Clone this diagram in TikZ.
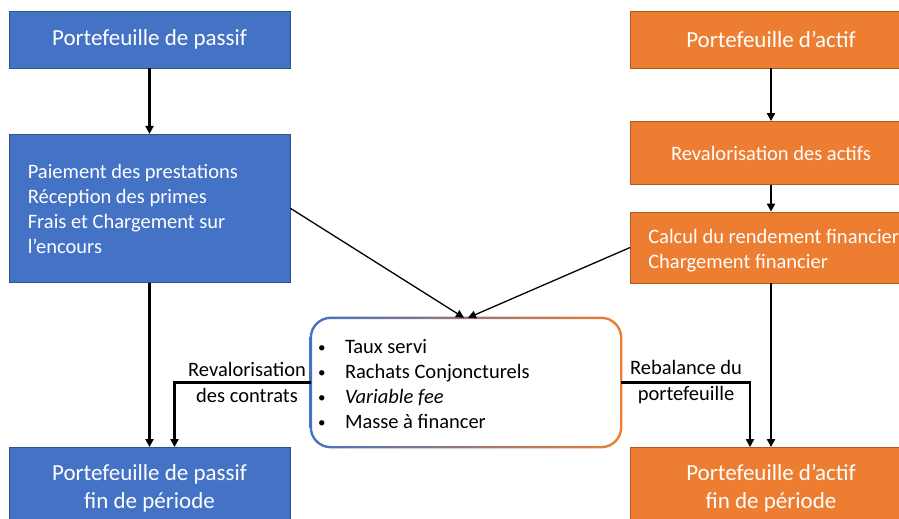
\documentclass[tikz,border=0pt]{standalone}
\usepackage{fontspec}
\setmainfont{Carlito}
\usetikzlibrary{arrows.meta,positioning}

\definecolor{passifblue}{HTML}{4472C4}
\definecolor{passifedge}{HTML}{2F528F}
\definecolor{actiforange}{HTML}{ED7D31}
\definecolor{actifedge}{HTML}{AE5A21}
\newcommand{\puce}{\makebox[27pt][l]{\raisebox{1pt}{\fontsize{15}{15}\selectfont\textbullet}}}

\begin{document}
\begin{tikzpicture}[
    x=1pt, y=-1pt,
    flow/.style={-{Triangle[length=8pt,width=8pt]}, line width=2.5pt},
    thinflow/.style={-{Triangle[length=8pt,width=8pt]}, line width=1.3pt},
    box/.style={draw, line width=0.8pt, text=white, align=center,
                inner sep=0pt, minimum width=281pt},
    passif/.style={box, fill=passifblue, draw=passifedge},
    actif/.style={box, fill=actiforange, draw=actifedge},
    head/.style={font=\fontsize{23}{28}\selectfont},
    body/.style={font=\fontsize{20.5}{25}\selectfont},
    inbox/.style={body, text=white, align=left, anchor=west, inner sep=0pt},
    sidelabel/.style={font=\fontsize{20.5}{26}\selectfont, align=center, inner sep=0pt}
  ]
  \useasboundingbox (0,0) rectangle (899,519);

  % passif side
  \node[passif, head, minimum height=57pt] (passif) at (149.5,39.5)
    {Portefeuille de passif};
  \node[passif, minimum height=148pt] (flux) at (149.5,208.3) {};
  \node[inbox] (fluxtext) at ([shift={(19,1)}]flux.west)
    {Paiement des prestations\\Réception des primes\\Frais et Chargement sur\\l’encours};
  \node[passif, head, minimum height=82pt] (passiffin) at (149.5,488.5)
    {Portefeuille de passif\\fin de période};

  % actif side
  \node[actif, head, minimum height=57pt] (actif) at (771,39.5)
    {Portefeuille d’actif};
  \node[actif, body, minimum height=63pt] (revalact) at (771,153)
    {Revalorisation des actifs};
  \node[actif, minimum height=71pt] (calcul) at (771,247.5) {};
  \node[inbox] (calcultext) at ([shift={(18,3)}]calcul.west)
    {Calcul du rendement financier\\Chargement financier};
  \node[actif, head, minimum height=82pt] (actiffin) at (771,488.5)
    {Portefeuille d’actif\\fin de période};

  % central box with blue-to-orange outline
  \node[fill=white, rounded corners=20pt, minimum width=310pt, minimum height=129pt,
        inner sep=0pt] (centre) at (466,382.5) {};
  \shade[left color=passifblue, right color=actiforange, even odd rule]
    [rounded corners=21.2pt]
    ([shift={(-1.2,-1.2)}]centre.north west) rectangle ([shift={(1.2,1.2)}]centre.south east)
    [rounded corners=18.8pt]
    ([shift={(1.2,1.2)}]centre.north west) rectangle ([shift={(-1.2,-1.2)}]centre.south east);
  \node[body, align=left, anchor=west, inner sep=0pt] (centretext) at ([shift={(7,2)}]centre.west)
    {\puce Taux servi\\\puce Rachats Conjoncturels\\\puce \textit{Variable fee}\\\puce Masse à financer};

  \draw[flow] (passif) -- (flux);
  \draw[flow] (flux) -- (passiffin);
  \draw[flow] (actif) -- (revalact);
  \draw[flow] (revalact) -- (calcul);
  \draw[flow] (calcul) -- (actiffin);

  \draw[thinflow] (flux.east) -- ([xshift=-2pt]centre.north);
  \draw[thinflow] (calcul.west) -- ([xshift=2pt]centre.north);

  \draw[flow] (centre.west) -| ([xshift=25pt]passiffin.north);
  \draw[flow] (centre.east) -| ([xshift=-21pt]actiffin.north);
  \node[sidelabel] (revalo) at (247,382) {Revalorisation\\des contrats};
  \node[sidelabel] (rebal) at (686,382) {Rebalance du\\portefeuille};
\end{tikzpicture}
\end{document}
